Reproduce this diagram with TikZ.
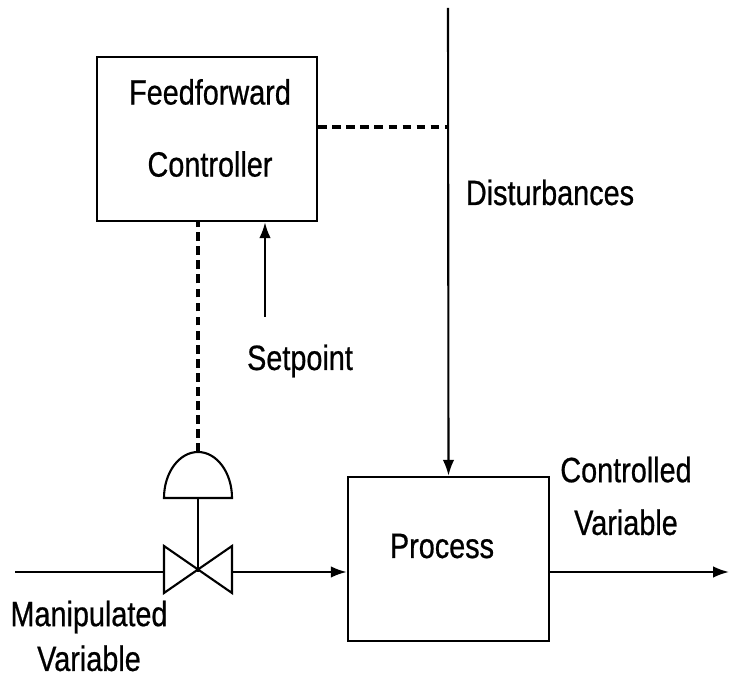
\documentclass[tikz,border=0pt]{standalone}
\usepackage{fontspec}
\setmainfont[FakeStretch=0.82, FakeBold=0.6]{Liberation Sans}
\usetikzlibrary{arrows.meta}

\begin{document}
\begin{tikzpicture}[x=0.2mm, y=0.2mm, line width=1.2pt, >={Latex[length=9pt,width=6.5pt]},
    block/.style={draw, line width=1.4pt, minimum height=3.28cm, inner sep=0pt},
    txt/.style={font=\fontsize{20}{24}\selectfont, inner sep=0pt},
    signal/.style={line width=2.2pt, dash pattern=on 5pt off 3pt}]
    \useasboundingbox (0,0) rectangle (730,677);

    % Blocks
    \node[block, minimum width=4.4cm] (ffc) at (207,538) {};
    \node[block, minimum width=4.02cm] (proc) at (448.5,118) {};

    % Labels
    \node[txt, align=center] (ffclbl) at (210,549) {Feedforward\\[17pt]Controller};
    \node[txt, anchor=base] (proclbl) at (442,119) {Process};
    \node[txt, anchor=base] (distlbl) at (550,472) {Disturbances};
    \node[txt, anchor=base] (splbl) at (300,307) {Setpoint};
    \node[txt, align=center] (cvlbl) at (626,181) {Controlled\\[6pt]Variable};
    \node[txt, align=center] (mvlbl) at (89,41) {Manipulated\\[1.5pt]Variable};

    % Points
    \coordinate (vc) at (198,105);
    \coordinate (vin) at (15,105);
    \coordinate (vl) at (164,105);
    \coordinate (vr) at (232,105);
    \coordinate (out) at (729,105);
    \coordinate (act) at (198,225);
    \coordinate (actb) at (198,179);
    \coordinate (dtop) at (448,669);
    \coordinate (dj) at (448,550);
    \coordinate (sp) at (265,360);

    % Valve
    \draw (164,131) -- (232,84) -- (232,131) -- (164,84) -- cycle;
    \draw (164,179) arc (180:0:34 and 46) -- cycle;
    \draw (actb) -- (vc);

    % Flow lines
    \draw (vin) -- (vl);
    \draw[->] (vr) -- (vr -| proc.west);
    \draw[->] (proc.east |- vr) -- (out);
    \draw[->] (dtop) -- (proc.north);
    \draw[->] (sp) -- (sp |- ffc.south);

    % Control signals
    \draw[signal] (ffc.east |- dj) -- (dj);
    \draw[signal] (act) -- (act |- ffc.south);
\end{tikzpicture}
\end{document}
